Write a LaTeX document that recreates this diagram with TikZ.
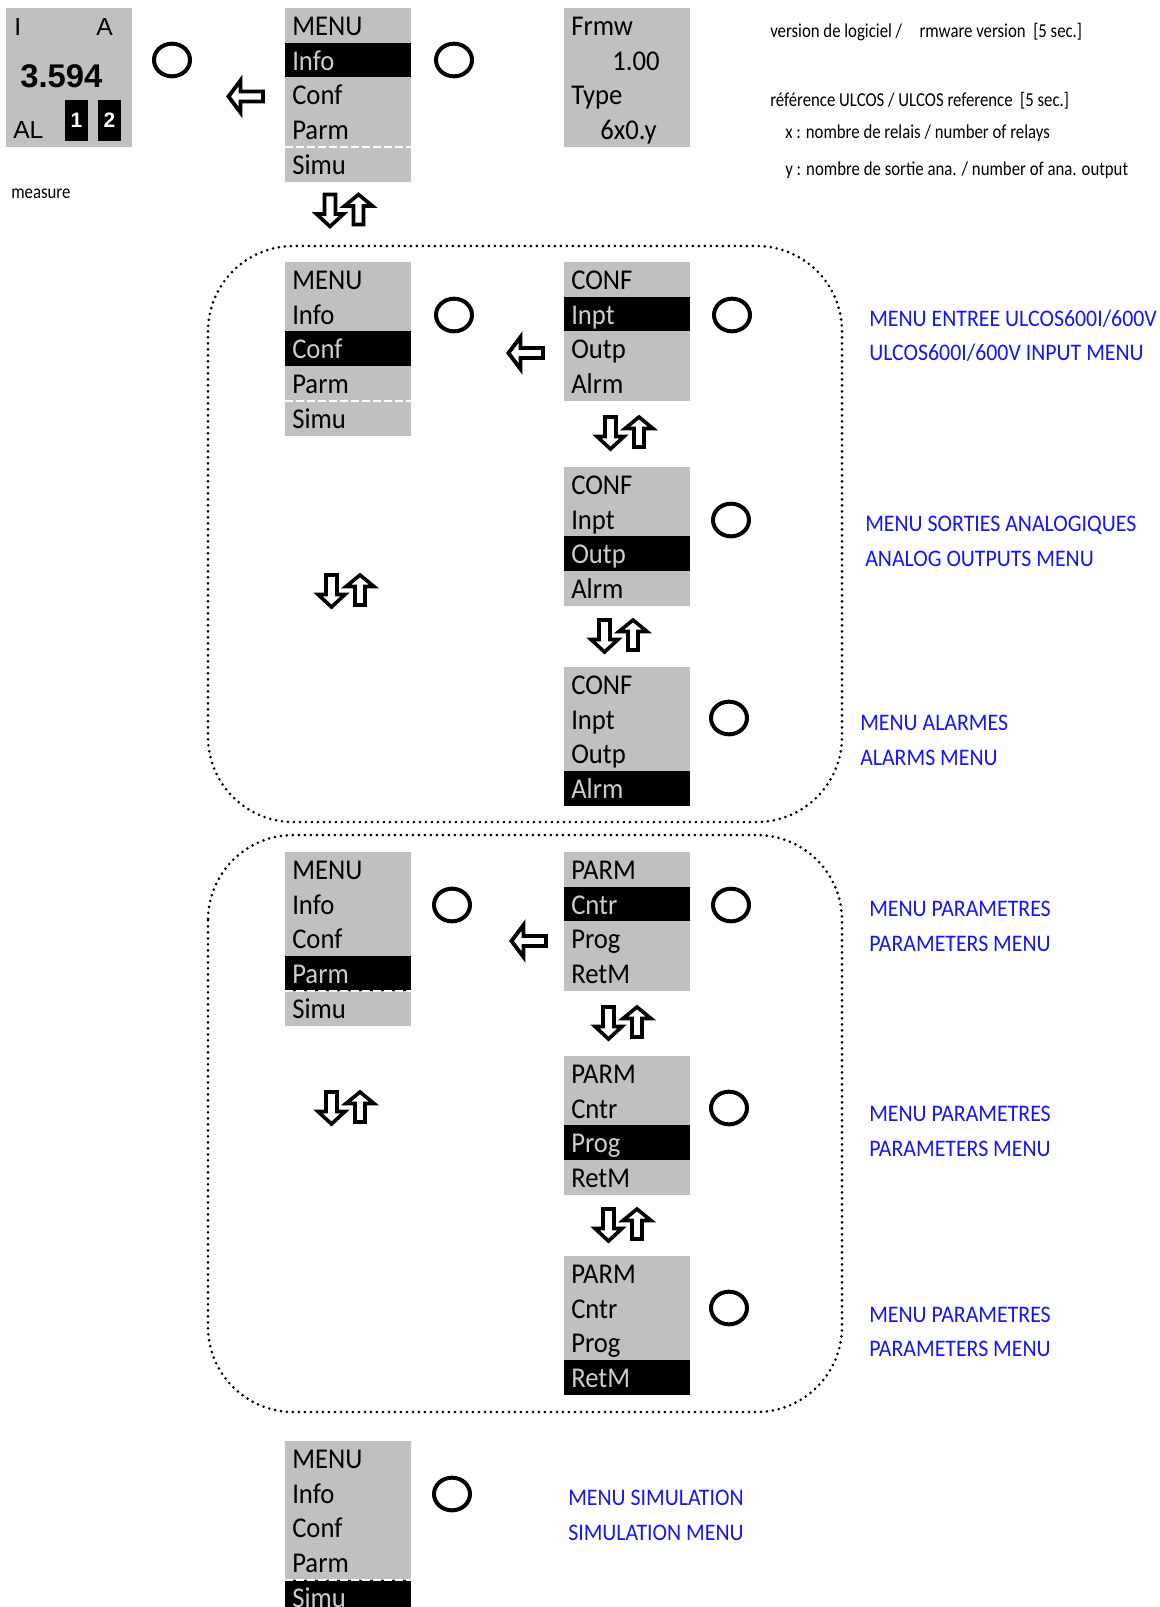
\documentclass[tikz,border=0pt]{standalone}
\usepackage{fontspec}
\usetikzlibrary{shapes.geometric}
\newfontfamily\menufont{Carlito}[FakeStretch=0.93]
\newfontfamily\smallfont{Carlito}[FakeStretch=0.85]
\newfontfamily\bluefont{Carlito}[FakeStretch=0.92]
\newfontfamily\arialfont{Liberation Sans}
\definecolor{boxgray}{RGB}{192,192,192}
\definecolor{hlgray}{RGB}{205,205,205}
\definecolor{menublue}{RGB}{20,20,255}
\tikzset{
 menutext/.style={anchor=base west, inner sep=0pt, font=\menufont\fontsize{21.5pt}{24pt}\selectfont},
 menutextr/.style={anchor=base east, inner sep=0pt, font=\menufont\fontsize{21.5pt}{24pt}\selectfont},
 smalltext/.style={anchor=base west, inner sep=0pt, font=\smallfont\fontsize{14.8pt}{17pt}\selectfont},
 bluetext/.style={anchor=base west, inner sep=0pt, text=menublue, font=\bluefont\fontsize{17.8pt}{20pt}\selectfont},
 disptext/.style={anchor=base west, inner sep=0pt, font=\arialfont\fontsize{18.5pt}{20pt}\selectfont},
 dispval/.style={anchor=base west, inner sep=0pt, font=\arialfont\bfseries\fontsize{24.6pt}{27pt}\selectfont},
 alnum/.style={inner sep=0pt, text=white, font=\arialfont\bfseries\fontsize{15.7pt}{17pt}\selectfont},
 okbtn/.style={ellipse, draw, line width=3pt, minimum width=27pt, minimum height=24.5pt, inner sep=0pt},
 hollow/.style={draw=black, fill=white, line width=2.9pt, line join=miter},
 hollowb/.style={draw=black, fill=white, line width=2.7pt, line join=miter},
 sepline/.style={white, line width=1.5pt, dash pattern=on 6pt off 2.25pt},
 groupframe/.style={line width=2.2pt, dash pattern=on 0pt off 4.5pt, line cap=round, rounded corners=64pt},
 leftarr/.pic={\draw[hollow] (-17.5,0) -- (-5.5,-16) -- (-5.5,-5) -- (17,-5) -- (17,5) -- (-5.5,5) -- (-5.5,16) -- cycle;},
 updown/.pic={
   \draw[hollowb] (12,-16) -- (26,-4.5) -- (17,-4.5) -- (17,14) -- (7,14) -- (7,-4.5) -- (-2,-4.5) -- cycle;
   \draw[hollowb] (-22,-16) -- (-11,-16) -- (-11,3.5) -- (-3,3.5) -- (-16.5,16) -- (-30,3.5) -- (-22,3.5) -- cycle;
 }
}
% #1 name prefix, #2 x, #3 y top, #4 rows, #5 highlighted row, #6 items
\newcommand\menucol[6]{%
  \fill[boxgray] (#2,#3) rectangle ({#2+126},{#3+34.7*#4});
  \fill[black] (#2,{#3+34.7*(#5-1)}) rectangle ({#2+126},{#3+34.7*#5});
  \foreach \t [count=\i] in {#6} {%
    \ifnum\i=#5\relax\def\tcol{hlgray}\else\def\tcol{black}\fi
    \node[menutext, text=\tcol] (#1-\i) at ({#2+7},{#3+34.7*(\i-1)+27.5}) {\t};
  }%
}
\newcommand\sepat[2]{\draw[sepline] (#1,{#2+138.8}) -- ({#1+126},{#2+138.8});}
\begin{document}
\begin{tikzpicture}[x=0.75pt,y=-0.75pt]
\useasboundingbox (0,0) rectangle (1160,1607);
\begin{scope}
\clip (0,0) rectangle (1160,1607);
% ---- display
\fill[boxgray] (6,8) rectangle (132,147);
\node[disptext] (dI) at (14,35) {I};
\node[disptext] (dA) at (96,35) {A};
\node[dispval] (dval) at (20,87) {3.594};
\node[disptext] (dAL) at (13,138) {AL};
\fill[black] (65,100) rectangle (88,141);
\node[alnum] (d1) at (76.5,120.5) {1};
\fill[black] (98,100) rectangle (121,141);
\node[alnum] (d2) at (109.5,120.5) {2};
\node[smalltext] (meas) at (11,198) {measure};
\node[okbtn] (b0) at (172,60) {};
\pic at (246,96.5) {leftarr};
% ---- top menu
\menucol{m0}{285}{8}{5}{2}{MENU,Info,Conf,Parm,Simu}
\sepat{285}{8}
\node[okbtn] (b1) at (454,60) {};
\pic at (346.5,210.5) {updown};
% ---- firmware box
\fill[boxgray] (564,8) rectangle (690,146.8);
\node[menutext] (fw1) at (571,35.5) {Frmw};
\node[menutextr] (fw2) at (660,70.2) {1.00};
\node[menutext] (fw3) at (571,104.9) {Type};
\node[menutextr] (fw4) at (657,139.6) {6x0.y};
\node[smalltext] (t1) at (770,37) {version de logiciel /\hspace{13pt}rmware version\ \ [5 sec.]};
\node[smalltext] (t2) at (770,106) {référence ULCOS / ULCOS reference\ \ [5 sec.]};
\node[smalltext] (t3) at (785,138) {x : nombre de relais / number of relays};
\node[smalltext] (t4) at (785,175) {y : nombre de sortie ana. / number of ana. output};
% ---- group 1 (CONF)
\draw[groupframe] (208,246) rectangle (842,822);
\menucol{m1}{285}{262}{5}{3}{MENU,Info,Conf,Parm,Simu}
\sepat{285}{262}
\node[okbtn] (b2) at (454,315) {};
\pic at (526,353) {leftarr};
\menucol{c1}{564}{262}{4}{2}{CONF,Inpt,Outp,Alrm}
\node[okbtn] (b3) at (732,315) {};
\pic at (627,433) {updown};
\menucol{c2}{564}{467}{4}{3}{CONF,Inpt,Outp,Alrm}
\node[okbtn] (b4) at (731,520) {};
\pic at (621,636) {updown};
\menucol{c3}{564}{667}{4}{4}{CONF,Inpt,Outp,Alrm}
\node[okbtn] (b5) at (729,718) {};
\pic at (348,591) {updown};
\node[bluetext] (l1a) at (869,326) {MENU ENTREE ULCOS600I/600V};
\node[bluetext] (l1b) at (869,360) {ULCOS600I/600V INPUT MENU};
\node[bluetext] (l2a) at (865,531.5) {MENU SORTIES ANALOGIQUES};
\node[bluetext] (l2b) at (865,566.5) {ANALOG OUTPUTS MENU};
\node[bluetext] (l3a) at (860,730.5) {MENU ALARMES};
\node[bluetext] (l3b) at (860,765.5) {ALARMS MENU};
% ---- group 2 (PARM)
\draw[groupframe] (208,835) rectangle (842,1412);
\menucol{m2}{285}{852}{5}{4}{MENU,Info,Conf,Parm,Simu}
\sepat{285}{852}
\node[okbtn] (b6) at (452,905) {};
\pic at (529,941) {leftarr};
\menucol{p1}{564}{852}{4}{2}{PARM,Cntr,Prog,RetM}
\node[okbtn] (b7) at (731,905) {};
\pic at (625,1023) {updown};
\menucol{p2}{564}{1056}{4}{3}{PARM,Cntr,Prog,RetM}
\node[okbtn] (b8) at (729,1108) {};
\pic at (625,1225) {updown};
\menucol{p3}{564}{1256}{4}{4}{PARM,Cntr,Prog,RetM}
\node[okbtn] (b9) at (729,1308) {};
\pic at (348,1108) {updown};
\node[bluetext] (l4a) at (869,916) {MENU PARAMETRES};
\node[bluetext] (l4b) at (869,951) {PARAMETERS MENU};
\node[bluetext] (l5a) at (869,1121) {MENU PARAMETRES};
\node[bluetext] (l5b) at (869,1156) {PARAMETERS MENU};
\node[bluetext] (l6a) at (869,1322) {MENU PARAMETRES};
\node[bluetext] (l6b) at (869,1356.5) {PARAMETERS MENU};
% ---- bottom (SIMU)
\menucol{m3}{285}{1441}{5}{5}{MENU,Info,Conf,Parm,Simu}
\sepat{285}{1441}
\node[okbtn] (b10) at (452,1494) {};
\node[bluetext] (l7a) at (568,1505) {MENU SIMULATION};
\node[bluetext] (l7b) at (568,1540) {SIMULATION MENU};
\end{scope}
\end{tikzpicture}
\end{document}
